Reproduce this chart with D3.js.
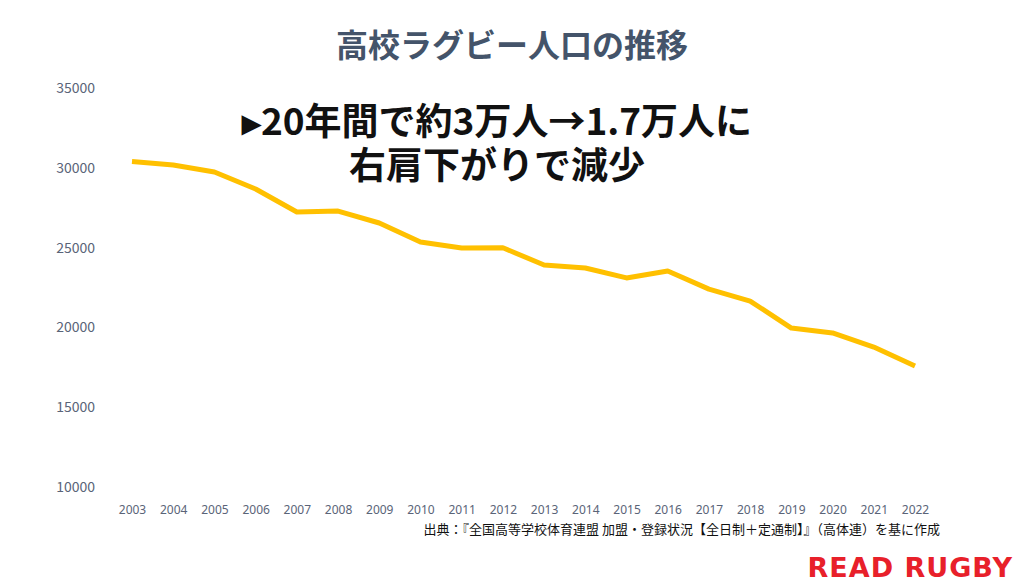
<!DOCTYPE html>
<html><head><meta charset="utf-8">
<script src="https://cdn.jsdelivr.net/npm/d3@7"></script>
<style>body{margin:0;background:#fff;font-family:"Noto Sans CJK JP","Noto Sans",sans-serif;}</style>
</head><body><div id="chart"></div>
<script>
const years = ["2003","2004","2005","2006","2007","2008","2009","2010","2011","2012","2013","2014","2015","2016","2017","2018","2019","2020","2021","2022"];
const players = [30400,30180,29740,28670,27230,27290,26540,25350,24970,24990,23910,23720,23100,23530,22400,21650,19960,19650,18770,17580];
const yTicks = [10000,15000,20000,25000,30000,35000];

const W = 1024, H = 585;
const svg = d3.select("#chart").append("svg").attr("width", W).attr("height", H);

const x = d3.scalePoint(years, [132, 915]);
const y = d3.scaleLinear([10000, 35000], [487, 88]);

// title
svg.append("text").attr("x", 512).attr("y", 57).attr("text-anchor", "middle")
    .style("font-size", "32px").style("font-weight", "700").attr("fill", "#44546a")
    .text("高校ラグビー人口の推移");

// y axis labels
svg.append("g").selectAll("text").data(yTicks).join("text")
    .attr("x", 95).attr("y", d => y(d) + 5).attr("text-anchor", "end")
    .style("font-size", "14px").attr("fill", "#5a6478").text(d => d);

// x axis
svg.append("g").attr("transform", "translate(0,502)")
    .call(d3.axisBottom(x).tickSize(0))
    .call(g => g.select(".domain").remove())
    .selectAll("text").style("font-size", "12px").attr("fill", "#5a6478")
    .style("font-family", "'Noto Sans',sans-serif");

// line
const line = d3.line().x((d, i) => x(years[i])).y(d => y(d));
svg.append("path").datum(players).attr("fill", "none")
    .attr("stroke", "#ffc000").attr("stroke-width", 5)
    .attr("stroke-linejoin", "round").attr("d", line);

// annotation
svg.append("text").attr("x", 497).attr("y", 135).attr("text-anchor", "middle")
    .style("font-size", "37px").style("font-weight", "700").attr("fill", "#111")
    .text("▸20年間で約3万人→1.7万人に");
svg.append("text").attr("x", 497).attr("y", 179).attr("text-anchor", "middle")
    .style("font-size", "37px").style("font-weight", "700").attr("fill", "#111")
    .text("右肩下がりで減少");

// source
svg.append("text").attr("x", 940).attr("y", 534).attr("text-anchor", "end")
    .style("font-size", "13px").attr("fill", "#111")
    .text("出典：『全国高等学校体育連盟 加盟・登録状況【全日制＋定通制】』（高体連）を基に作成");

// logo
svg.append("text").attr("x", 1013).attr("y", 577).attr("text-anchor", "end")
    .style("font-size", "27px").style("font-weight", "900").attr("fill", "#e8202a")
    .style("font-family", "'DejaVu Sans',sans-serif").style("letter-spacing", "1px")
    .text("READ RUGBY");
</script></body></html>
